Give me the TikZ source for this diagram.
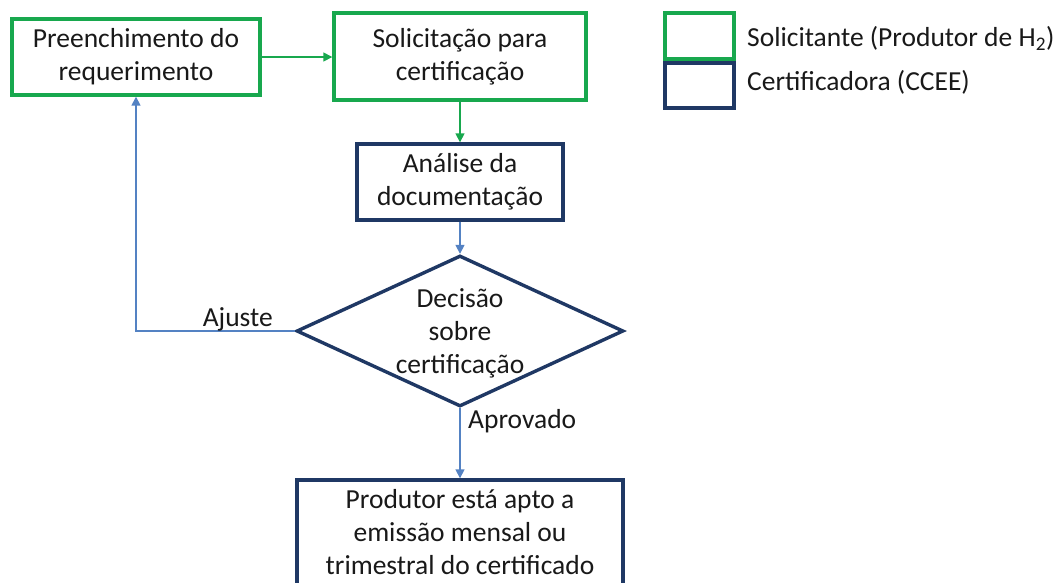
\documentclass[tikz,border=0pt]{standalone}
\usepackage{fontspec}
\setmainfont{Carlito}
\usetikzlibrary{shapes.geometric,arrows.meta}
\definecolor{gbox}{RGB}{24,168,78}
\definecolor{bbox}{RGB}{31,56,100}
\definecolor{barr}{RGB}{84,130,195}
\begin{document}
\begin{tikzpicture}[x=1pt,y=-1pt,
  every node/.style={font=\fontsize{27.5}{33}\selectfont, text=black!90},
  gproc/.style={draw=gbox, line width=3.4pt, rectangle, align=center, inner sep=0pt},
  bproc/.style={draw=bbox, line width=3.4pt, rectangle, align=center, inner sep=0pt},
  decision/.style={draw=bbox, line width=3.4pt, diamond, inner sep=0pt},
  garrow/.style={draw=gbox, line width=1.6pt, -{Triangle[length=9pt,width=9pt]}},
  barrow/.style={draw=barr, line width=1.6pt, -{Triangle[length=9pt,width=9pt]}},
  lbl/.style={inner sep=0pt}]
\useasboundingbox (0,0) rectangle (1061,582);
\clip (0,0) rectangle (1061,582);
\fill[white] (0,0) rectangle (1061,582);

\node[gproc, minimum width=248pt, minimum height=76pt] (b1) at (136,57) {Preenchimento do\\requerimento};
\node[gproc, minimum width=252pt, minimum height=87pt] (b2) at (460,56.5) {Solicitação para\\certificação};
\node[bproc, minimum width=206pt, minimum height=76pt] (b3) at (460,182) {Análise da\\documentação};
\node[decision, minimum width=327pt, minimum height=151pt] (d) at (460,331) {};
\node[lbl, align=center] (dt) at (460,333) {Decisão\\sobre\\certificação};
\node[bproc, minimum width=326pt, minimum height=112pt] (b4) at (460,536) {};
\node[lbl, align=center] (b4t) at (460,532) {Produtor está apto a\\emissão mensal ou\\trimestral do certificado};

\draw[garrow] (b1.east) -- (b1.east -| b2.west);
\draw[garrow] (b2.south) -- (b3.north);
\draw[barrow] (b3.south) -- (d.north);
\draw[barrow] (d.west) -| (b1.south);
\draw[barrow] (d.south) -- (b4.north);

\node[lbl, anchor=base east] (aj) at (273,326) {Ajuste};
\node[lbl, anchor=west] (ap) at (468,421) {Aprovado};

% legend
\node[gproc, minimum width=69pt, minimum height=46pt] (lg) at (699.5,36) {};
\node[bproc, minimum width=69pt, minimum height=45pt] (lb) at (699.5,85.5) {};
\node[lbl, anchor=west] (lgt) at (747,38) {Solicitante (Produtor de H\textsubscript{2})};
\node[lbl, anchor=west] (lbt) at (747,82) {Certificadora (CCEE)};
\end{tikzpicture}
\end{document}
